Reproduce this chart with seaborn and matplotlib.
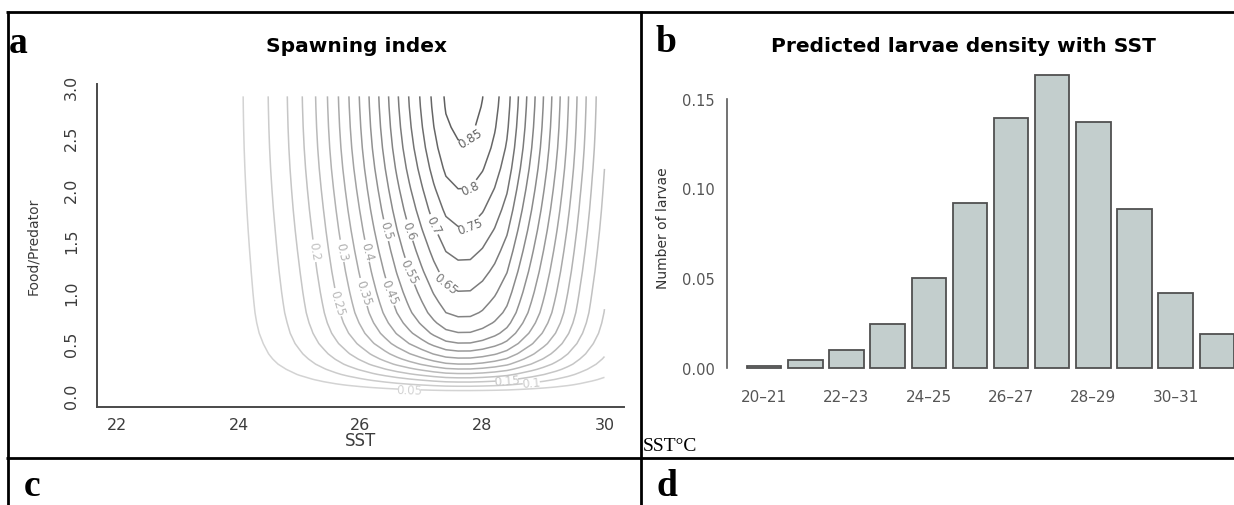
import numpy as np
import matplotlib
matplotlib.use("Agg")
import matplotlib.pyplot as plt
from matplotlib.lines import Line2D
import seaborn as sns

# ---------------- data: panel a (spawning index surface) ----------------
sst_grid = [24.0, 24.2, 24.4, 24.6, 24.8, 25.0, 25.2, 25.4, 25.6, 25.8,
            26.0, 26.2, 26.4, 26.6, 26.8, 27.0, 27.2, 27.4, 27.6, 27.8,
            28.0, 28.2, 28.4, 28.6, 28.8, 29.0, 29.2, 29.4, 29.6, 29.8, 30.0]
sst_response = [0.042, 0.063, 0.087, 0.117, 0.150, 0.190, 0.234, 0.284, 0.339, 0.397,
                0.456, 0.519, 0.581, 0.644, 0.703, 0.758, 0.812, 0.857, 0.873, 0.872,
                0.851, 0.817, 0.770, 0.696, 0.623, 0.550, 0.477, 0.404, 0.332, 0.268, 0.212]
fp_grid = [0.0, 0.025, 0.05, 0.075, 0.1, 0.15, 0.2, 0.25, 0.3, 0.35, 0.4, 0.5,
           0.6, 0.7, 0.8, 0.9, 1.0, 1.2, 1.4, 1.6, 1.8, 2.0, 2.2, 2.4, 2.6, 2.8, 2.9]
fp_response = [0.0, 0.032, 0.066, 0.100, 0.135, 0.205, 0.275, 0.340, 0.400, 0.450, 0.495, 0.570,
               0.627, 0.668, 0.700, 0.722, 0.743, 0.782, 0.818, 0.853, 0.886, 0.916, 0.944, 0.967,
               0.984, 0.996, 1.0]
contour_levels = [0.05, 0.10, 0.15, 0.20, 0.25, 0.30, 0.35, 0.40, 0.45, 0.50,
                  0.55, 0.60, 0.65, 0.70, 0.75, 0.80, 0.85]
a_xticks = [22, 24, 26, 28, 30]
a_yticks = [0.0, 0.5, 1.0, 1.5, 2.0, 2.5, 3.0]

# ---------------- data: panel b (larvae by SST class) ----------------
sst_classes = ["20-21", "21-22", "22-23", "23-24", "24-25", "25-26",
               "26-27", "27-28", "28-29", "29-30", "30-31", "31-32"]
larvae = [0.0013, 0.0042, 0.0098, 0.0243, 0.0504, 0.0919,
          0.1391, 0.1633, 0.1371, 0.0885, 0.0420, 0.0188]
b_yticks = [0.00, 0.05, 0.10, 0.15]

# ---------------- style ----------------
sns.set_theme(style="white")
plt.rcParams["font.family"] = ["DejaVu Sans"]
SERIF = ["Liberation Serif", "DejaVu Serif"]

W, H = 1234, 506
fig = plt.figure(figsize=(W / 100, H / 100), dpi=100)
fig.patch.set_facecolor("white")


def fx(x):
    return x / W


def fy(y):
    return 1 - y / H


# table grid lines
lw_tab = 2.0
for (x0, y0, x1, y1) in [(6, 13, 1234, 13), (6, 458.5, 1234, 458.5),
                         (7.5, 12, 7.5, 506), (641.5, 12, 641.5, 506)]:
    fig.add_artist(Line2D([fx(x0), fx(x1)], [fy(y0), fy(y1)], color="black",
                          lw=lw_tab, transform=fig.transFigure, solid_capstyle="butt"))

# ---------------- panel a ----------------
ax_a = fig.add_axes([fx(97), fy(408), fx(624) - fx(97), fy(85.4) - fy(408)])
X, Y = np.meshgrid(sst_grid, fp_grid)
Z = np.outer(fp_response, sst_response)
grays = plt.get_cmap("Greys")
line_cols = [grays(0.28 + 0.42 * i / (len(contour_levels) - 1)) for i in range(len(contour_levels))]
cs = ax_a.contour(X, Y, Z, levels=contour_levels, colors=line_cols, linewidths=1.1)
ax_a.clabel(cs, fmt=lambda v: f"{v:g}", fontsize=8.5, inline=True, inline_spacing=3)
ax_a.set_xlim(21.68, 30.32)
ax_a.set_ylim(-0.116, 3.016)
ax_a.set_xticks(a_xticks)
ax_a.set_xticklabels([str(t) for t in a_xticks])
ax_a.set_yticks(a_yticks)
ax_a.set_yticklabels([f"{t:.1f}" for t in a_yticks], rotation=90, va="center")
for s in ["top", "right"]:
    ax_a.spines[s].set_visible(False)
for s in ["left", "bottom"]:
    ax_a.spines[s].set_color("#4a4a4a")
    ax_a.spines[s].set_linewidth(1.4)
ax_a.tick_params(axis="both", direction="out", length=5, width=1.2, color="#4a4a4a",
                 labelsize=11.5, labelcolor="#3c3c3c")
ax_a.tick_params(axis="x", pad=2)
ax_a.tick_params(axis="y", pad=8)
ax_a.set_xlabel("SST", fontsize=12, color="#3c3c3c")
ax_a.xaxis.set_label_coords(0.5, (408 - 441) / (408 - 85.4))
ax_a.set_ylabel("Food/Predator", fontsize=10, color="#3c3c3c")
ax_a.yaxis.set_label_coords((33 - 97) / 527, 0.5)
ax_a.xaxis.label.set_va("center")
ax_a.yaxis.label.set_va("center")
ax_a.set_facecolor("white")

# ---------------- panel b ----------------
ax_b = fig.add_axes([fx(727), fy(379.8), fx(1234) - fx(727), fy(63.7) - fy(379.8)])
sns.barplot(x=sst_classes, y=larvae, color="#c3cecd", saturation=1, edgecolor="#505050",
            linewidth=1.3, width=0.838, ax=ax_b)
ax_b.set_xlim(-0.904, 11.417)
ax_b.set_ylim(-0.006, 0.17)
ax_b.set_xticks(list(range(0, len(sst_classes), 2)))
ax_b.set_xticklabels([c.replace("-", "\u2013") for c in sst_classes[::2]])
ax_b.set_yticks(b_yticks)
ax_b.set_yticklabels([f"{t:.2f}" for t in b_yticks])
for s in ["top", "right", "bottom"]:
    ax_b.spines[s].set_visible(False)
ax_b.spines["left"].set_color("#5a5a5a")
ax_b.spines["left"].set_linewidth(1.2)
ax_b.spines["left"].set_bounds(0, 0.15)
ax_b.tick_params(axis="y", direction="out", length=8, width=1.1, color="#5a5a5a",
                 labelsize=10.5, labelcolor="#555555", pad=1)
ax_b.tick_params(axis="x", length=0, labelsize=11, labelcolor="#555555", pad=7)
ax_b.set_xlabel("")
ax_b.set_ylabel("Number of larvae", fontsize=10, color="#333333")
ax_b.yaxis.set_label_coords((663 - 727) / 507, (379.8 - 228) / (379.8 - 63.7))
ax_b.yaxis.label.set_va("center")
ax_b.set_facecolor("white")

# ---------------- titles and panel letters ----------------
fig.text(fx(356), fy(47), "Spawning index", ha="center", va="center",
         fontsize=14.5, fontweight="bold", color="black")
fig.text(fx(963), fy(47), "Predicted larvae density with SST", ha="center", va="center",
         fontsize=14.5, fontweight="bold", color="black")
for letter, x, y in [("a", 9, 53), ("b", 655, 52), ("c", 24, 496), ("d", 657, 496)]:
    fig.text(fx(x), fy(y), letter, ha="left", va="baseline", fontsize=27,
             fontweight="bold", family=SERIF, color="black")
fig.text(fx(643), fy(451), "SST\u00b0C", ha="left", va="baseline", fontsize=14,
         family=SERIF, color="black")

fig.savefig("out.png", dpi=100, facecolor="white")
